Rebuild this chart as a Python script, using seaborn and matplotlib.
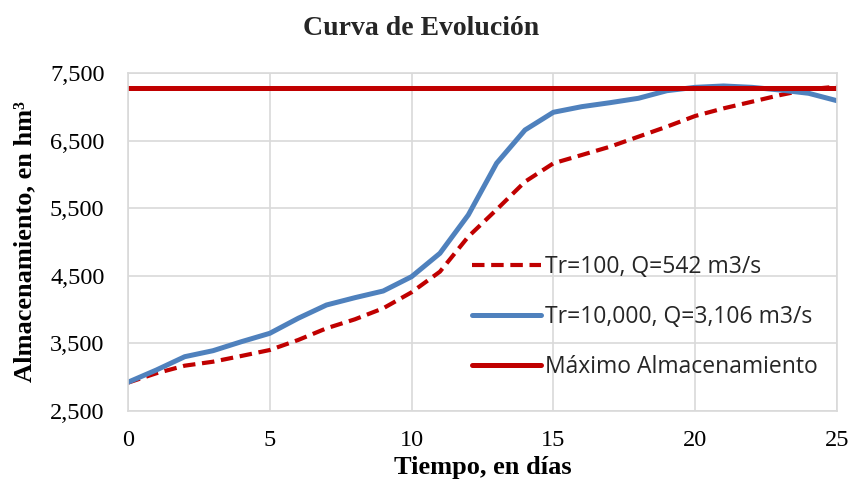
import numpy as np
import pandas as pd
import matplotlib
matplotlib.use("Agg")
import matplotlib.pyplot as plt
from matplotlib.ticker import FuncFormatter
import seaborn as sns

days = list(range(26))
tr100 = [2919, 3058, 3170, 3229, 3314, 3402, 3550, 3723, 3856, 4019, 4256, 4561,
         5079, 5480, 5892, 6164, 6287, 6410, 6558, 6706, 6864, 6977, 7075, 7174,
         7259, 7298]
tr10000 = [2925, 3106, 3303, 3392, 3525, 3649, 3871, 4068, 4176, 4275, 4487, 4833,
           5400, 6166, 6657, 6919, 7002, 7061, 7126, 7238, 7288, 7308, 7288, 7248,
           7200, 7090]
max_storage = 7280
labels = ["Tr=100, Q=542 m3/s", "Tr=10,000, Q=3,106 m3/s", "Máximo Almacenamiento"]
title = "Curva de Evolución"
xlabel = "Tiempo, en días"
ylabel = "Almacenamiento, en hm³"

sns.set_theme(style="whitegrid")
plt.rcParams['font.family'] = ['Liberation Serif', 'DejaVu Serif']

df = pd.DataFrame({
    "dia": days * 3,
    "valor": tr100 + tr10000 + [max_storage] * len(days),
    "serie": [labels[0]] * 26 + [labels[1]] * 26 + [labels[2]] * 26,
})

fig = plt.figure(figsize=(8.51, 4.99), dpi=100)
ax = fig.add_axes([0.1504, 0.1764, 0.8331, 0.6773])

palette = {labels[0]: "#C00000", labels[1]: "#4F81BD", labels[2]: "#C00000"}
sizes = {labels[0]: 3.0, labels[1]: 3.6, labels[2]: 3.6}
dashes = {labels[0]: (3, 1.6), labels[1]: "", labels[2]: ""}

sns.lineplot(data=df, x="dia", y="valor", hue="serie", style="serie", size="serie",
             palette=palette, sizes=sizes, dashes=dashes, ax=ax, legend=True)

ax.set_xlim(0, 25)
ax.set_ylim(2500, 7500)
ax.set_xticks([0, 5, 10, 15, 20, 25])
ax.set_yticks([2500, 3500, 4500, 5500, 6500, 7500])
ax.yaxis.set_major_formatter(FuncFormatter(lambda v, p: f"{int(v):,}"))
ax.tick_params(axis='both', labelsize=17.5, colors="#000000", length=0)
ax.tick_params(axis='x', pad=14)
ax.tick_params(axis='y', pad=17)

ax.grid(True, color="#D9D9D9", linewidth=1.2)
for s in ax.spines.values():
    s.set_visible(True)
    s.set_color("#D9D9D9")
    s.set_linewidth(1.2)

ax.set_xlabel(xlabel, fontsize=19, fontweight="bold", color="black", labelpad=3)
ax.set_ylabel(ylabel, fontsize=19, fontweight="bold", color="black", labelpad=10)
fig.suptitle(title, fontsize=20, fontweight="bold", x=0.495, y=0.968)

handles, _ = ax.get_legend_handles_labels()
ax.legend(handles=handles, labels=labels, loc="center left",
          bbox_to_anchor=(0.485, 0.278), frameon=False,
          prop={"family": "Open Sans", "size": 16.5}, handlelength=3.0,
          handletextpad=0.2, labelspacing=1.15, borderpad=0, borderaxespad=0)

fig.savefig("out.png", dpi=100)
